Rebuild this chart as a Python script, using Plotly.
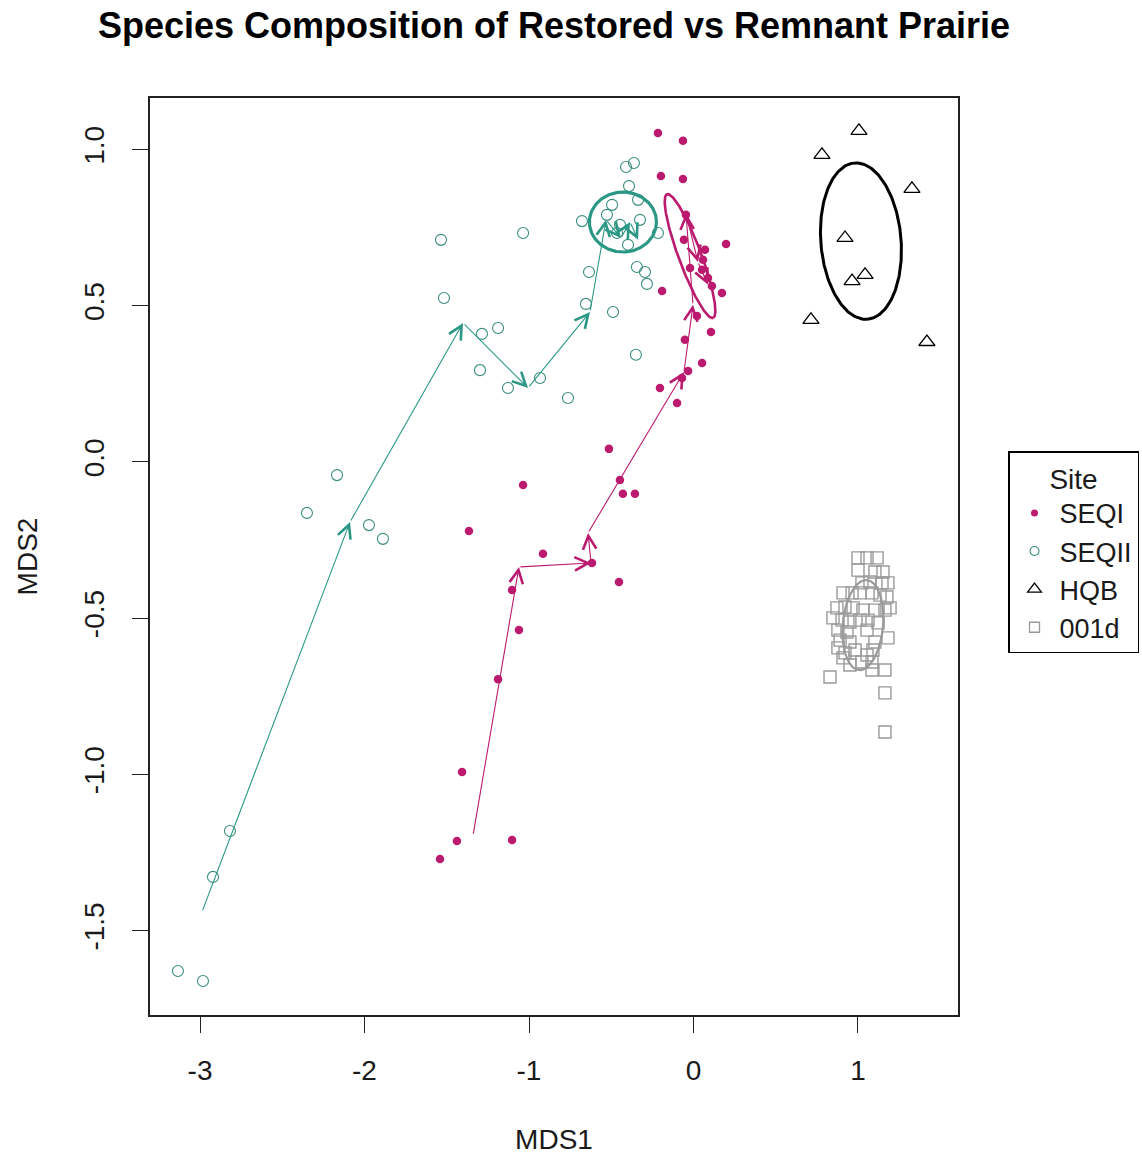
import numpy as np
import plotly.graph_objects as go

# ---------------- data (NMDS scores) ----------------
seqi_x = [-0.216, -0.064, -0.198, -0.064, 0.198, -0.046, -0.058, 0.070, 0.058, -0.021,
          0.052, 0.088, 0.112, 0.173, -0.191, 0.021, 0.106, -0.052, 0.052, -0.033,
          -0.070, -0.204, -0.100, -0.514, -0.447, -0.429, -0.356, -1.036, -1.365, -0.915,
          -0.617, -0.453, -1.103, -1.061, -1.188, -1.407, -1.438, -1.541, -1.103]
seqi_y = [1.053, 1.028, 0.915, 0.906, 0.698, 0.791, 0.711, 0.679, 0.647, 0.621,
          0.615, 0.589, 0.563, 0.541, 0.547, 0.467, 0.416, 0.391, 0.317, 0.291,
          0.269, 0.237, 0.189, 0.042, -0.058, -0.102, -0.102, -0.074, -0.221, -0.294,
          -0.323, -0.384, -0.410, -0.538, -0.695, -0.992, -1.213, -1.271, -1.210]

seqii_x = [-3.134, -2.982, -2.921, -2.818, -2.350, -2.167, -1.973, -1.888, -1.535, -1.517,
           -1.298, -1.286, -1.188, -1.128, -1.036, -0.933, -0.763, -0.654, -0.635, -0.678,
           -0.489, -0.350, -0.410, -0.362, -0.392, -0.526, -0.495, -0.337, -0.216, -0.344,
           -0.295, -0.283, -0.465, -0.398, -0.325, -0.447]
seqii_y = [-1.629, -1.661, -1.328, -1.181, -0.163, -0.042, -0.202, -0.246, 0.711, 0.525,
           0.294, 0.410, 0.429, 0.237, 0.733, 0.269, 0.205, 0.506, 0.608, 0.771,
           0.480, 0.343, 0.944, 0.957, 0.883, 0.791, 0.823, 0.839, 0.733, 0.624,
           0.608, 0.570, 0.733, 0.695, 0.775, 0.759]

hqb_x = [1.006, 0.781, 1.328, 0.921, 1.043, 0.964, 0.714, 1.419]
hqb_y = [1.060, 0.983, 0.874, 0.717, 0.599, 0.579, 0.455, 0.384]

d001_x = [1.000, 1.055, 1.116, 1.000, 1.103, 1.152, 1.024, 1.073, 1.146, 1.182,
          0.909, 0.964, 1.012, 1.085, 1.134, 1.176, 0.872, 0.921, 0.970, 1.030,
          1.103, 1.164, 1.195, 0.848, 0.903, 0.951, 1.012, 1.061, 1.122, 0.878,
          0.933, 1.055, 1.182, 0.891, 0.951, 1.103, 0.878, 0.921, 0.982, 1.091,
          0.909, 1.055, 0.951, 1.024, 1.085, 1.164, 0.830, 1.085, 1.164, 1.164]
d001_y = [-0.307, -0.307, -0.307, -0.346, -0.352, -0.352, -0.387, -0.384, -0.387, -0.387,
          -0.419, -0.419, -0.419, -0.419, -0.426, -0.432, -0.467, -0.464, -0.467, -0.474,
          -0.474, -0.474, -0.467, -0.499, -0.506, -0.512, -0.506, -0.506, -0.515, -0.538,
          -0.544, -0.538, -0.563, -0.570, -0.576, -0.576, -0.595, -0.611, -0.602, -0.602,
          -0.627, -0.618, -0.650, -0.640, -0.640, -0.666, -0.688, -0.666, -0.739, -0.864]

# successive sampling-year centroids (trajectory arrows)
seqii_path_x = [-2.988, -2.088, -1.401, -1.006, -0.629, -0.532, -0.441, -0.386, -0.337]
seqii_path_y = [-1.440, -0.192, 0.445, 0.237, 0.480, 0.775, 0.717, 0.768, 0.711]
seqi_path_x = [-1.340, -1.061, -0.623, -0.641, -0.058, -0.003, -0.046, 0.027, 0.088]
seqi_path_y = [-1.194, -0.336, -0.323, -0.227, 0.288, 0.503, 0.797, 0.640, 0.567]

# confidence ellipses: centre and two conjugate half-axis vectors
ell_seqi = dict(c=(-0.021, 0.659), u=(0.140, -0.198), v=(0.064, 0.013))
ell_seqii = dict(c=(-0.429, 0.768), u=(0.204, 0.0), v=(0.0, 0.096))
ell_hqb = dict(c=(1.018, 0.707), u=(0.040, -0.250), v=(0.243, 0.011))
ell_001d = dict(c=(1.030, -0.522), u=(0.024, 0.144), v=(0.122, -0.006))

x_ticks = [-3, -2, -1, 0, 1]
x_tick_text = ["-3", "-2", "-1", "0", "1"]
y_ticks = [-1.5, -1.0, -0.5, 0.0, 0.5, 1.0]
y_tick_text = ["-1.5", "-1.0", "-0.5", "0.0", "0.5", "1.0"]

site_names = ["SEQI", "SEQII", "HQB", "001d"]

# ---------------- styles ----------------
MAG = "#BB1A6E"
TEAL = "#2B9886"
TEAL_PT = "#3A8C7E"
GRAY = "#9A9A9A"
FONT = "Liberation Sans, Arial, sans-serif"

fig = go.Figure()

fig.add_trace(go.Scatter(x=seqi_x, y=seqi_y, mode="markers", showlegend=False,
                         marker=dict(symbol="circle", size=8.5, color=MAG, line=dict(width=0))))
fig.add_trace(go.Scatter(x=seqii_x, y=seqii_y, mode="markers", showlegend=False,
                         marker=dict(symbol="circle-open", size=11, color=TEAL_PT, line=dict(width=1.1))))
fig.add_trace(go.Scatter(x=hqb_x, y=hqb_y, mode="markers", showlegend=False,
                         marker=dict(symbol="triangle-up-open", size=14, color="black", line=dict(width=1.3))))
fig.add_trace(go.Scatter(x=d001_x, y=d001_y, mode="markers", showlegend=False,
                         marker=dict(symbol="square-open", size=12, color=GRAY, line=dict(width=1.4))))


def ellipse(e, n=240):
    t = np.linspace(0, 2 * np.pi, n)
    cx, cy = e["c"]
    ux, uy = e["u"]
    vx, vy = e["v"]
    return cx + ux * np.cos(t) + vx * np.sin(t), cy + uy * np.cos(t) + vy * np.sin(t)


for e, col, w in [(ell_seqi, MAG, 2.6), (ell_seqii, TEAL, 3.2), (ell_hqb, "black", 3.0), (ell_001d, GRAY, 2.2)]:
    ex, ey = ellipse(e)
    fig.add_trace(go.Scatter(x=ex, y=ey, mode="lines", showlegend=False, hoverinfo="skip",
                             line=dict(color=col, width=w)))

annotations = []
for px, py, col in [(seqii_path_x, seqii_path_y, TEAL), (seqi_path_x, seqi_path_y, MAG)]:
    for i in range(len(px) - 1):
        annotations.append(dict(x=px[i + 1], y=py[i + 1], ax=px[i], ay=py[i],
                                xref="x", yref="y", axref="x", ayref="y",
                                text="", showarrow=True, arrowhead=5, arrowsize=2.4,
                                arrowwidth=1.1, arrowcolor=col, standoff=0, startstandoff=0))

# legend-only entries (small symbols as in the original legend)
leg_styles = [
    dict(symbol="circle", size=7, color=MAG, line=dict(width=0)),
    dict(symbol="circle-open", size=9, color=TEAL_PT, line=dict(width=1.1)),
    dict(symbol="triangle-up-open", size=12, color="black", line=dict(width=1.3)),
    dict(symbol="square-open", size=10, color=GRAY, line=dict(width=1.3)),
]
for name, st in zip(site_names, leg_styles):
    fig.add_trace(go.Scatter(x=[None], y=[None], mode="markers", name=name, marker=st))

fig.update_layout(
    width=1142, height=1158,
    margin=dict(l=150, r=184, t=98, b=143, autoexpand=False),
    paper_bgcolor="white", plot_bgcolor="white",
    font=dict(family=FONT, size=28, color="#1a1a1a"),
    title=dict(text="<b>Species Composition of Restored vs Remnant Prairie</b>",
               x=0.5, xref="paper", xanchor="center",
               y=1 - 25 / 1158, yref="container", yanchor="middle",
               font=dict(family=FONT, size=36, color="black")),
    annotations=annotations,
    legend=dict(xref="container", yref="container", x=1008 / 1142, y=1 - 451 / 1158,
                xanchor="left", yanchor="top", bordercolor="black", borderwidth=1.5,
                bgcolor="white", font=dict(size=27), itemwidth=40,
                entrywidth=110, entrywidthmode="pixels",
                title=dict(text="Site", side="top center", font=dict(size=28)),
                tracegroupgap=0),
)

fig.update_xaxes(range=[-3.304, 1.608], tickmode="array", tickvals=x_ticks, ticktext=x_tick_text,
                 ticks="outside", ticklen=16, tickwidth=1.3, tickcolor="#222",
                 showline=True, linecolor="#222", linewidth=1.5, mirror=True,
                 showgrid=False, zeroline=False, ticklabelstandoff=14,
                 title=dict(text="MDS1", standoff=44, font=dict(size=28)))
fig.update_yaxes(range=[-1.770, 1.165], tickmode="array", tickvals=y_ticks, ticktext=y_tick_text,
                 ticks="outside", ticklen=16, tickwidth=1.3, tickcolor="#222", tickangle=-90,
                 showline=True, linecolor="#222", linewidth=1.5, mirror=True,
                 showgrid=False, zeroline=False, ticklabelstandoff=17,
                 title=dict(text="MDS2", standoff=33, font=dict(size=28)))

fig.write_html("out.html")
